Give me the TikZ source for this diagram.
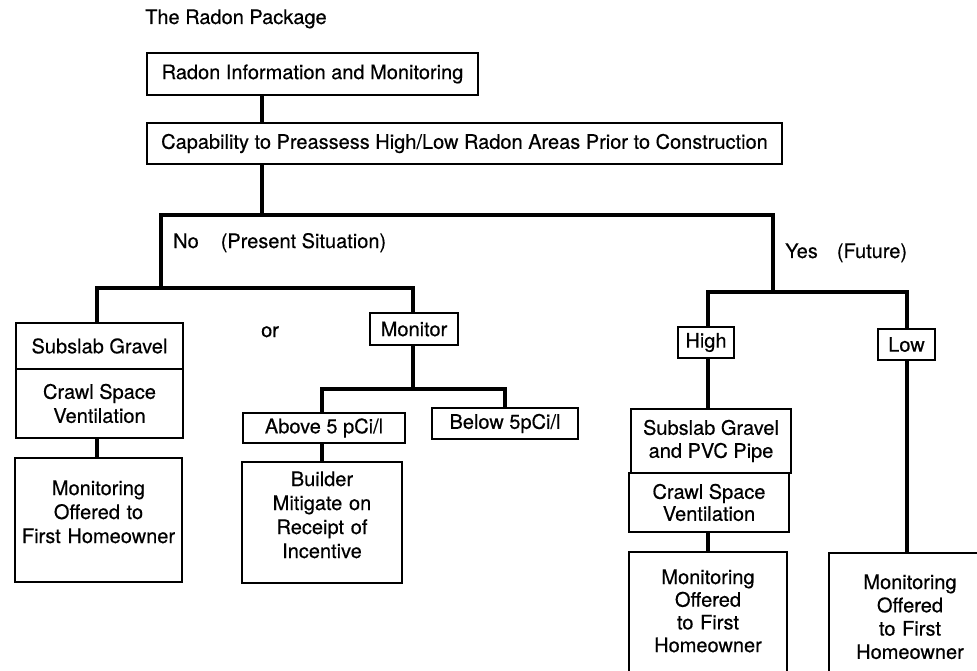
\documentclass[tikz,border=0pt]{standalone}
\usepackage{fontspec}
\setmainfont{TeX Gyre Heros}[FakeBold=0.4]

\begin{document}
\begin{tikzpicture}[x=1pt, y=-1pt,
  box/.style={draw, line width=2.4pt, inner sep=2pt, align=center,
              font=\fontsize{20}{24}\selectfont},
  topbox/.style={box, text height=15pt, text depth=#1},
  conn/.style={line width=4.6pt},
  lbl/.style={anchor=base west, inner sep=0pt, font=\fontsize{20}{24}\selectfont},
]
\useasboundingbox (0,0) rectangle (977,671);
\clip (0,0) rectangle (977,671);

\node[lbl] (title) at (145,24) {The Radon Package};

\node[box, minimum width=331pt, minimum height=42pt] (info) at (312.5,74)
  {Radon Information and Monitoring};
\node[box, minimum width=635pt, minimum height=41pt] (cap) at (464.5,143.5)
  {Capability to Preassess High/Low Radon Areas Prior to Construction};

\coordinate (trunk) at (262,215);
\coordinate (forkL) at (161,215);
\coordinate (forkR) at (773,215);
\coordinate (noL) at (97,288);
\coordinate (noR) at (413,288);
\coordinate (yesL) at (708,292);
\coordinate (yesR) at (907,292);
\coordinate (monL) at (322,389);
\coordinate (monR) at (505,389);

\node[lbl] (no) at (173,248) {No\hspace{22pt}(Present Situation)};
\node[lbl] (yes) at (785,258) {Yes\hspace{19pt}(Future)};
\node[lbl] (or) at (261,337) {or};

\node[box, minimum width=167pt, minimum height=46pt] (gravel) at (99.5,346) {Subslab Gravel};
\node[box, minimum width=167pt, minimum height=69pt] (crawlL) at (99.5,403.5) {Crawl Space\\Ventilation};
\node[topbox=65pt, text width=163pt, minimum height=124pt] (monitL) at (98.5,520)
  {Monitoring\\Offered to\\First Homeowner};

\node[box, minimum width=88pt, minimum height=32pt] (monitor) at (414,329) {Monitor};
\node[box, minimum width=162pt, minimum height=30pt] (above) at (324,428) {Above 5 pCi/l};
\node[box, minimum width=146pt, minimum height=31pt] (below) at (505,423.5) {Below 5pCi/l};
\node[topbox=88pt, text width=156pt, minimum height=121pt] (builder) at (322,522.5)
  {Builder\\Mitigate on\\Receipt of\\Incentive};

\node[box, minimum width=56pt, minimum height=31pt] (high) at (706,342.5) {High};
\node[box, minimum width=57pt, minimum height=31pt] (low) at (906.5,344.5) {Low};
\node[box, minimum width=160pt, minimum height=64pt, font=\fontsize{20}{23}\selectfont] (pvc) at (711,441)
  {Subslab Gravel\\and PVC Pipe};
\node[box, minimum width=160pt, minimum height=59pt, font=\fontsize{20}{22}\selectfont] (crawlR) at (709,502.5)
  {Crawl Space\\Ventilation};
\node[topbox=101pt, text width=154pt, minimum height=150pt, font=\fontsize{20}{22.7}\selectfont] (monitR) at (708,627)
  {Monitoring\\Offered\\to First\\Homeowner};
\node[topbox=93pt, text width=158pt, minimum height=150pt, font=\fontsize{20}{23.3}\selectfont] (monitLow) at (910,628)
  {Monitoring\\Offered\\to First\\Homeowner};

\draw[conn] (info.south -| trunk) -- (cap.north -| trunk);
\draw[conn] (cap.south -| trunk) -- (trunk);
\draw[conn] (forkL |- noL) -- (forkL) -- (forkR) -- (forkR |- yesL);
\draw[conn] (gravel.north -| noL) -- (noL) -- (noR) -- (monitor.north -| noR);
\draw[conn] (crawlL.south -| noL) -- (monitL.north -| noL);
\draw[conn] (monitor.south -| noR) -- (monL -| noR);
\draw[conn] (above.north -| monL) -- (monL) -- (monR) -- (below.north -| monR);
\draw[conn] (above.south -| monL) -- (builder.north -| monL);
\draw[conn] (high.north -| yesL) -- (yesL) -- (yesR) -- (low.north -| yesR);
\draw[conn] (high.south -| yesL) -- (pvc.north -| yesL);
\draw[conn] (crawlR.south -| monitR.north) -- (monitR.north);
\draw[conn] (low.south -| yesR) -- (monitLow.north -| yesR);

\end{tikzpicture}
\end{document}
